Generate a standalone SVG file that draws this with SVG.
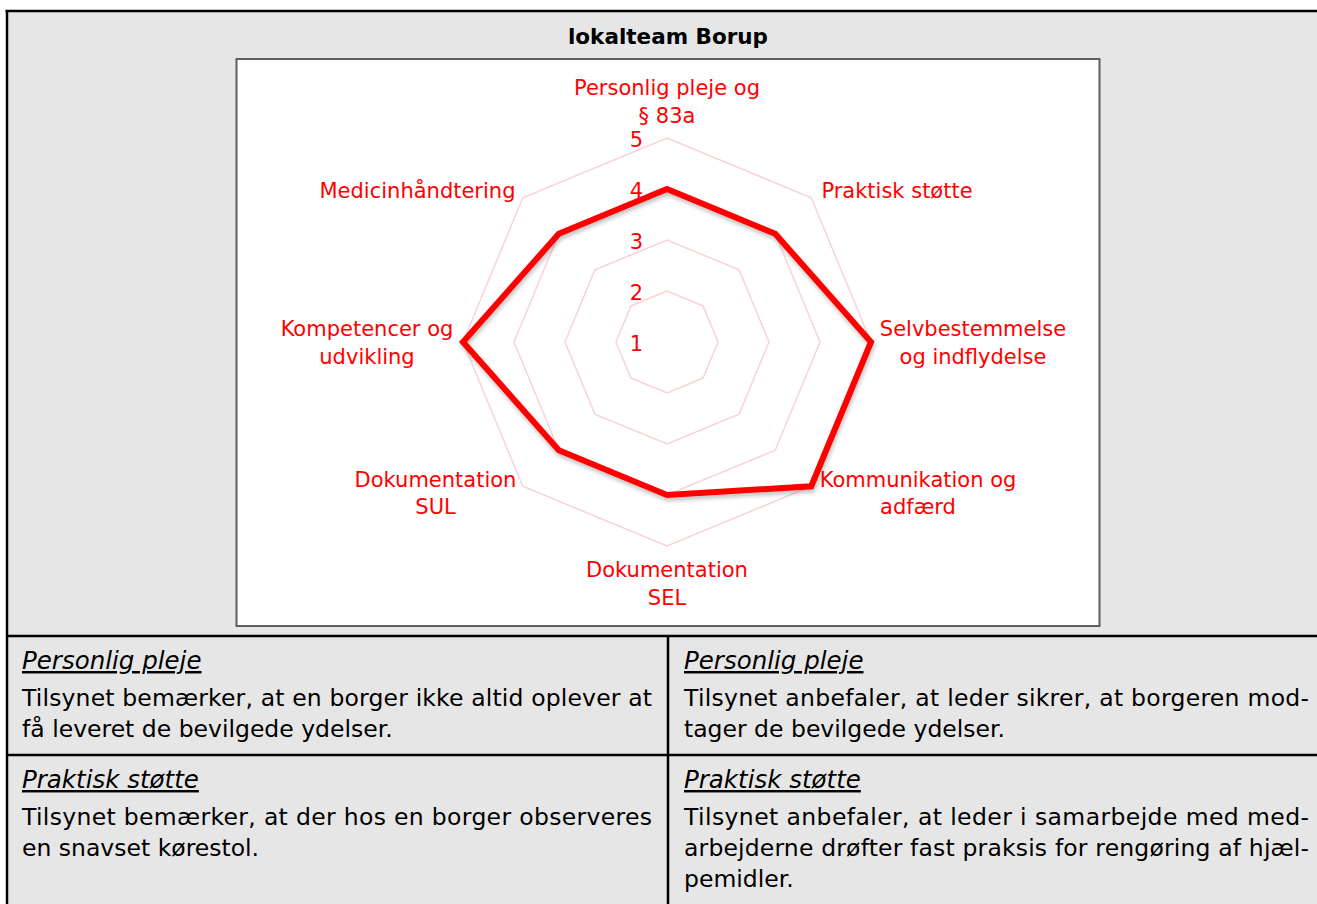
<svg xmlns="http://www.w3.org/2000/svg" width="1317" height="904" viewBox="0 0 1317 904">
  <style>
    .lbl { font-family: "DejaVu Sans", Verdana, sans-serif; font-size: 21px; fill: #ff0000; text-anchor: middle; }
    .tick { font-family: "DejaVu Sans", Verdana, sans-serif; font-size: 21px; fill: #ff0000; text-anchor: end; }
    .title { font-family: "DejaVu Sans", Verdana, sans-serif; font-size: 21.5px; font-weight: bold; fill: #000; text-anchor: middle; }
    .body { font-family: "DejaVu Sans", Verdana, sans-serif; font-size: 23.5px; fill: #000; }
    .head { font-family: "DejaVu Sans", Verdana, sans-serif; font-size: 24.5px; font-style: italic; fill: #000; text-decoration: underline; }
    .grid { fill: none; stroke: #f8d3d7; stroke-width: 1.5; }
    .rule { stroke: #000; stroke-width: 2.5; fill: none; }
  </style>
  <defs>
    <filter id="shadow" x="-10%" y="-10%" width="120%" height="120%">
      <feGaussianBlur in="SourceAlpha" stdDeviation="2"/>
      <feOffset dx="1" dy="3" result="b"/>
      <feComponentTransfer><feFuncA type="linear" slope="0.25"/></feComponentTransfer>
      <feMerge><feMergeNode/><feMergeNode in="SourceGraphic"/></feMerge>
    </filter>
  </defs>
  <rect x="0" y="0" width="1317" height="904" fill="#ffffff"/>
  <rect x="7" y="11" width="1310" height="893" fill="#e6e6e6"/>

  <g id="table-rules">
    <line class="rule" x1="5.5" y1="11" x2="1317" y2="11"/>
    <line class="rule" x1="7" y1="11" x2="7" y2="904"/>
    <line class="rule" x1="7" y1="636" x2="1317" y2="636"/>
    <line class="rule" x1="7" y1="755" x2="1317" y2="755"/>
    <line class="rule" x1="668" y1="636" x2="668" y2="904"/>
  </g>

  <g id="title">
    <text class="title" x="668" y="44">lokalteam Borup</text>
  </g>

  <g id="chart">
    <rect x="236.5" y="59" width="863" height="567" fill="#ffffff" stroke="#5f5f5f" stroke-width="2"/>
    <g id="grid">
      <polygon class="grid" points="667,291 703.06,305.94 718,342 703.06,378.06 667,393 630.94,378.06 616,342 630.94,305.94"/>
      <polygon class="grid" points="667,240 739.12,269.88 769,342 739.12,414.12 667,444 594.88,414.12 565,342 594.88,269.88"/>
      <polygon class="grid" points="667,189 775.19,233.81 820,342 775.19,450.19 667,495 558.81,450.19 514,342 558.81,233.81"/>
      <polygon class="grid" points="667,138 811.25,197.75 871,342 811.25,486.25 667,546 522.75,486.25 463,342 522.75,197.75"/>
    </g>
    <g id="ticks">
      <text class="tick" x="643" y="146.5">5</text>
      <text class="tick" x="643" y="197.5">4</text>
      <text class="tick" x="643" y="248.5">3</text>
      <text class="tick" x="643" y="299.5">2</text>
      <text class="tick" x="643" y="350.5">1</text>
    </g>
    <g id="series">
      <polygon points="667,189 775.19,233.81 871,342 811.25,486.25 667,495 558.81,450.19 463,342 558.81,233.81" fill="none" stroke="#ff0000" stroke-width="6" stroke-linejoin="miter" filter="url(#shadow)"/>
    </g>
    <g id="cat-personlig"><text class="lbl" x="667" y="95">Personlig pleje og</text><text class="lbl" x="667" y="123">§ 83a</text></g>
    <g id="cat-praktisk"><text class="lbl" x="897" y="198">Praktisk støtte</text></g>
    <g id="cat-selvbestemmelse"><text class="lbl" x="973" y="336">Selvbestemmelse</text><text class="lbl" x="973" y="364">og indflydelse</text></g>
    <g id="cat-kommunikation"><text class="lbl" x="918" y="487">Kommunikation og</text><text class="lbl" x="918" y="514">adfærd</text></g>
    <g id="cat-dok-sel"><text class="lbl" x="667" y="577">Dokumentation</text><text class="lbl" x="667" y="605">SEL</text></g>
    <g id="cat-dok-sul"><text class="lbl" x="435.5" y="487">Dokumentation</text><text class="lbl" x="435.5" y="514">SUL</text></g>
    <g id="cat-kompetencer"><text class="lbl" x="367" y="336">Kompetencer og</text><text class="lbl" x="367" y="364">udvikling</text></g>
    <g id="cat-medicin"><text class="lbl" x="417.5" y="198">Medicinhåndtering</text></g>
  </g>

  <g id="cell-r1-left">
    <text class="head" x="22" y="669">Personlig pleje</text>
    <text class="body" x="22" y="706" textLength="630" lengthAdjust="spacing">Tilsynet bemærker, at en borger ikke altid oplever at</text>
    <text class="body" x="22" y="737">få leveret de bevilgede ydelser.</text>
  </g>
  <g id="cell-r1-right">
    <text class="head" x="684" y="669">Personlig pleje</text>
    <text class="body" x="684" y="706" textLength="625" lengthAdjust="spacing">Tilsynet anbefaler, at leder sikrer, at borgeren mod-</text>
    <text class="body" x="684" y="737">tager de bevilgede ydelser.</text>
  </g>
  <g id="cell-r2-left">
    <text class="head" x="22" y="788">Praktisk støtte</text>
    <text class="body" x="22" y="825" textLength="630" lengthAdjust="spacing">Tilsynet bemærker, at der hos en borger observeres</text>
    <text class="body" x="22" y="856">en snavset kørestol.</text>
  </g>
  <g id="cell-r2-right">
    <text class="head" x="684" y="788">Praktisk støtte</text>
    <text class="body" x="684" y="825" textLength="625" lengthAdjust="spacing">Tilsynet anbefaler, at leder i samarbejde med med-</text>
    <text class="body" x="684" y="856" textLength="625" lengthAdjust="spacing">arbejderne drøfter fast praksis for rengøring af hjæl-</text>
    <text class="body" x="684" y="887">pemidler.</text>
  </g>
</svg>
